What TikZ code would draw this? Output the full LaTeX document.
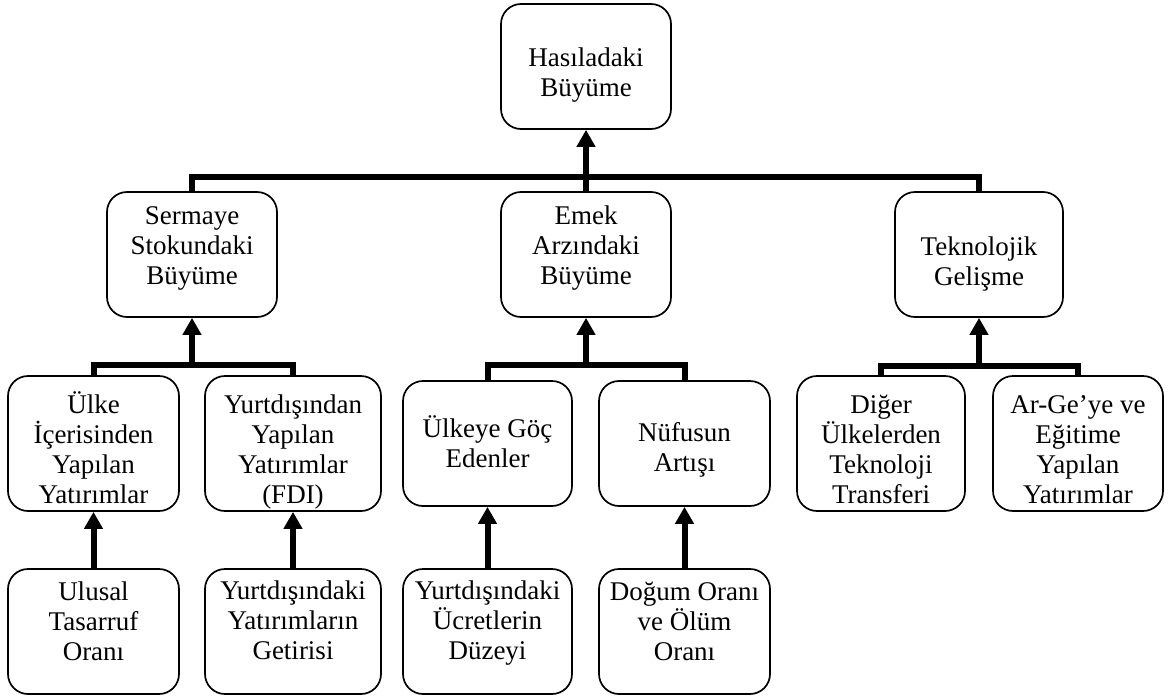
\documentclass[tikz,border=0pt]{standalone}
\usepackage{fontspec}
\setmainfont{Liberation Serif}
\usetikzlibrary{arrows.meta}
% struts fixing the height of a first line and the depth of a last line
\newcommand\ftop[1]{\rule{0pt}{#1pt}}
\newcommand\fbot[1]{\rule[-#1pt]{0pt}{0pt}}
\begin{document}
\begin{tikzpicture}[x=1pt,y=-1pt,
  box/.style={draw, line width=1.7pt, rounded corners=20pt, minimum height=125pt,
    inner sep=0pt, align=center, font=\fontsize{27}{30}\selectfont},
  link/.style={line width=6pt},
  arr/.style={line width=6pt, -{Triangle[width=18pt,length=17pt]}}]
\useasboundingbox (0,0) rectangle (1168,699);

% top level
\node[box, minimum width=170pt] (top) at (586,66.5)
  {\ftop{37}Hasıladaki\\Büyüme\fbot{8}};

% second level
\node[box, minimum width=170pt] (s) at (192,254.5)
  {\ftop{24}Sermaye\\Stokundaki\\Büyüme\fbot{24}};
\node[box, minimum width=170pt] (e) at (586,254.5)
  {\ftop{24}Emek\\Arzındaki\\Büyüme\fbot{24}};
\node[box, minimum width=168pt] (t) at (979,254.5)
  {\ftop{40}Teknolojik\\Gelişme\fbot{8}};

% third level
\node[box, minimum width=171pt] (a) at (93.5,443.5)
  {\ftop{37}Ülke\\İçerisinden\\Yapılan\\Yatırımlar\fbot{8}};
\node[box, minimum width=176pt] (b) at (293,443.5)
  {\ftop{37}Yurtdışından\\Yapılan\\Yatırımlar\\(FDI)\fbot{8}};
\node[box, minimum width=169pt] (c) at (487.5,443.5)
  {\ftop{25}Ülkeye Göç\\Edenler\fbot{8}};
\node[box, minimum width=171pt] (d) at (684.5,443.5)
  {\ftop{33}Nüfusun\\Artışı\fbot{8}};
\node[box, minimum width=168pt] (f) at (881,443.5)
  {\ftop{37}Diğer\\Ülkelerden\\Teknoloji\\Transferi\fbot{8}};
\node[box, minimum width=170pt] (g) at (1078,443.5)
  {\ftop{37}Ar-Ge’ye ve\\Eğitime\\Yapılan\\Yatırımlar\fbot{8}};

% fourth level
\node[box, minimum width=171pt] (a4) at (93.5,631.5)
  {\ftop{24}Ulusal\\Tasarruf\\Oranı\fbot{27}};
\node[box, minimum width=176pt] (b4) at (293,631.5)
  {\ftop{24}Yurtdışındaki\\Yatırımların\\Getirisi\fbot{28}};
\node[box, minimum width=169pt] (c4) at (487.5,631.5)
  {\ftop{24}Yurtdışındaki\\Ücretlerin\\Düzeyi\fbot{28}};
\node[box, minimum width=171pt] (d4) at (684.5,631.5)
  {\ftop{24}Doğum Oranı\\ve Ölüm\\Oranı\fbot{27}};

% junction points on the bars
\coordinate (hb) at (586,177);
\coordinate (sj) at (192,365);
\coordinate (ej) at (586,365);
\coordinate (tj) at (979,366);

% bar into the top box
\draw[link] (s.north) |- (hb) -| (t.north);
\draw[arr] (e.north) -- (top.south);

% bars into the second level
\draw[link] (a.north) |- (sj) -| (b.north);
\draw[arr] (sj) -- (s.south);
\draw[link] (c.north) |- (ej) -| (d.north);
\draw[arr] (ej) -- (e.south);
\draw[link] (f.north) |- (tj) -| (g.north);
\draw[arr] (tj) -- (t.south);

% arrows from the fourth level
\draw[arr] (a4.north) -- (a.south);
\draw[arr] (b4.north) -- (b.south);
\draw[arr] (c4.north) -- (c.south);
\draw[arr] (d4.north) -- (d.south);
\end{tikzpicture}
\end{document}
